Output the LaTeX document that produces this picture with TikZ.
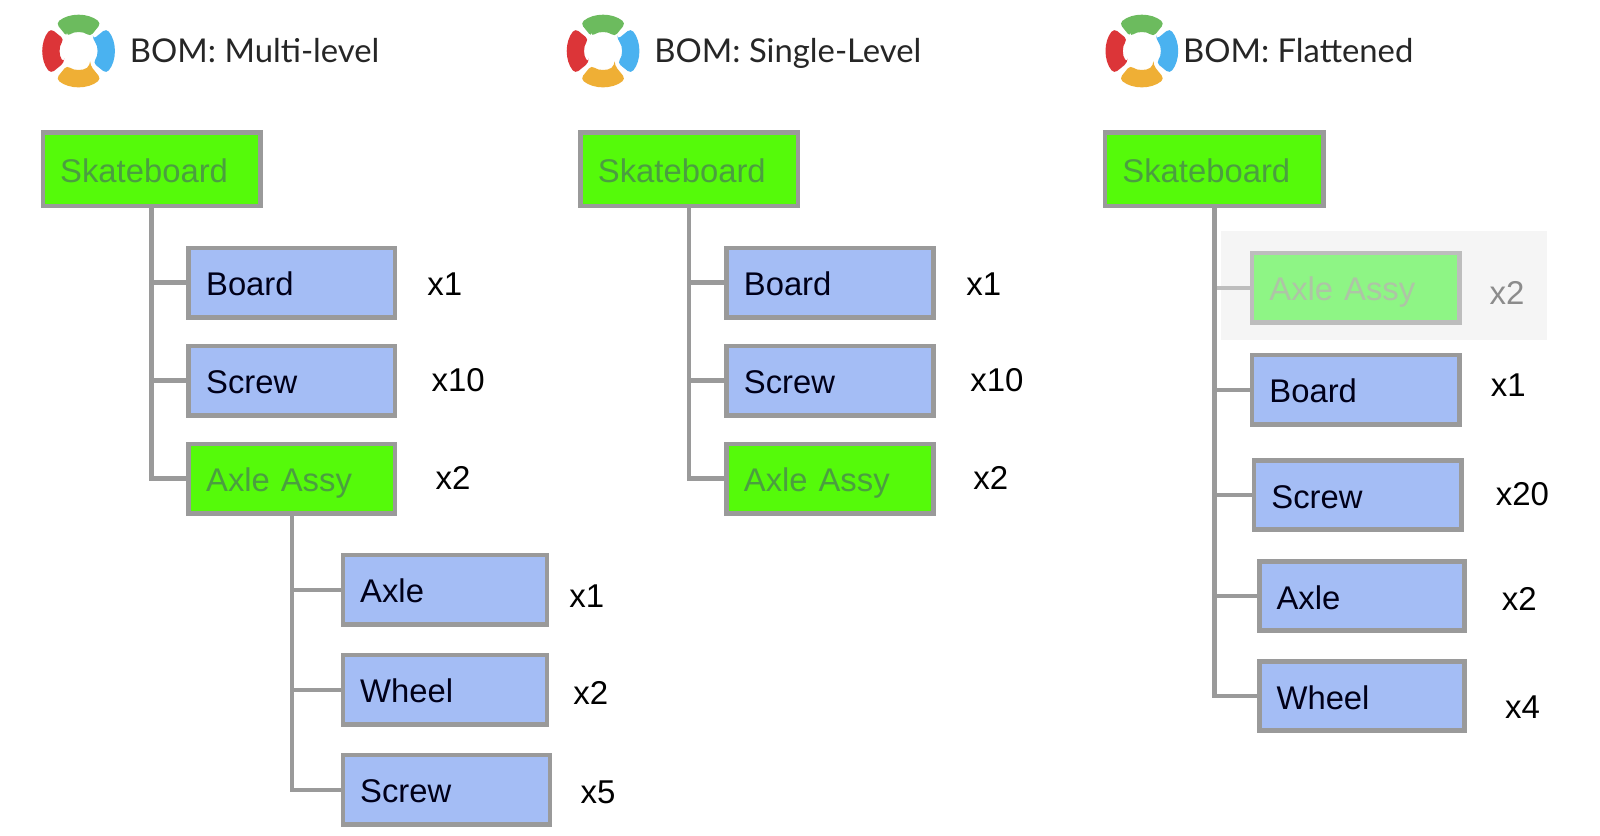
\documentclass[tikz,border=0pt]{standalone}
\usepackage{fontspec}
\setmainfont{Liberation Sans}
\newfontfamily\headfont{Lato}
\definecolor{lineg}{HTML}{9A9A9A}
\definecolor{boxgreen}{HTML}{55FA0A}
\definecolor{boxblue}{HTML}{A4BDF5}
\definecolor{greentext}{HTML}{4B9E40}
\definecolor{fadegreen}{HTML}{8EF585}
\definecolor{fadeline}{HTML}{BDBDBD}
\definecolor{fadetext}{HTML}{AEC4A6}
\definecolor{fadeback}{HTML}{F5F5F5}
\definecolor{logogreen}{HTML}{6CBB5E}
\definecolor{logored}{HTML}{DC3538}
\definecolor{logoblue}{HTML}{4AB2F0}
\definecolor{logoorange}{HTML}{EFAF35}
\def\u{0.5102}
\tikzset{
  x=\u pt,y=-\u pt,
  bomnode/.style={draw=lineg,line width=2.3pt,inner xsep=0pt,inner ysep=0pt,align=left,font=\fontsize{16.4}{18}\selectfont},
  partbox/.style={bomnode,fill=boxblue,text=black!90!blue},
  greenbox/.style={bomnode,fill=boxgreen,text=greentext},
  fadebox/.style={bomnode,fill=fadegreen,draw=fadeline,text=fadetext},
  conn/.style={draw=lineg,line width=2.2pt},
  fadeconn/.style={draw=fadeline,line width=2.2pt},
  qty/.style={font=\fontsize{16.5}{18}\selectfont,text=black,inner sep=0pt},
  fadeqty/.style={qty,text=gray!90},
  heading/.style={font=\headfont\fontsize{16.4}{20}\selectfont,text=black!85,anchor=base west,inner sep=0pt},
}
\newcommand{\bomnodeat}[7]{% name, style, x1, y1, x2, y2, text
  \pgfmathsetmacro{\bw}{(#5-#3-2)*\u}
  \pgfmathsetmacro{\bh}{(#6-#4-2)*\u}
  \pgfmathsetmacro{\tw}{(#5-#3-36)*\u}
  \pgfmathsetmacro{\bx}{(#3+#5)/2}
  \pgfmathsetmacro{\by}{(#4+#6)/2}
  \node[#2,minimum width=\bw pt,minimum height=\bh pt,text width=\tw pt] (#1) at (\bx,\by) {\rule[-.22em]{0pt}{1.24em}#7};
}
\newcommand{\bomlogo}[2]{%
  \begin{scope}[shift={(#1,#2)}]
    \foreach \c/\a in {logogreen/-90,logored/180,logoblue/0,logoorange/90}{
      \fill[\c,rounded corners=2pt] (\a-39:18) -- (\a-39:35) arc[start angle=\a-39,end angle=\a+39,radius=35] -- (\a+39:18) arc[start angle=\a+39,end angle=\a-39,radius=18] -- cycle;
    }
  \end{scope}
}
\begin{document}
\begin{tikzpicture}
\useasboundingbox (0,0) rectangle (1568,818.3);
\fill[white] (0,0) rectangle (1568,818.3);
% headings
\bomlogo{77}{50}
\bomlogo{591}{50}
\bomlogo{1119}{50}
\node[heading] (h1) at (127,61) {BOM: Multi-level};
\node[heading] (h2) at (641,61) {BOM: Single-Level};
\node[heading] (h3) at (1159,61) {BOM: Flattened};
% column 1
\bomnodeat{a0}{greenbox}{41}{129}{256}{203}{Skateboard}
\bomnodeat{a1}{partbox}{184}{242}{388}{312}{Board}
\bomnodeat{a2}{partbox}{184}{338}{388}{408}{Screw}
\bomnodeat{a3}{greenbox}{184}{434}{388}{504}{Axle Assy}
\bomnodeat{a4}{partbox}{335}{543}{537}{613}{Axle}
\bomnodeat{a5}{partbox}{335}{641}{537}{711}{Wheel}
\bomnodeat{a6}{partbox}{335}{739}{540}{809}{Screw}
\draw[conn] (a0.south) |- (a1.west);
\draw[conn] (a0.south) |- (a2.west);
\draw[conn] (a0.south) |- (a3.west);
\draw[conn] (a3.south) |- (a4.west);
\draw[conn] (a3.south) |- (a5.west);
\draw[conn] (a3.south) |- (a6.west);
\node[qty] (qa1) at (436,278) {x1};
\node[qty] (qa2) at (449,373) {x10};
\node[qty] (qa3) at (444,468) {x2};
\node[qty] (qa4) at (575,584) {x1};
\node[qty] (qa5) at (579,679) {x2};
\node[qty] (qa6) at (586,776) {x5};
% column 2
\bomnodeat{b0}{greenbox}{568}{129}{783}{203}{Skateboard}
\bomnodeat{b1}{partbox}{711}{242}{916}{312}{Board}
\bomnodeat{b2}{partbox}{711}{338}{916}{408}{Screw}
\bomnodeat{b3}{greenbox}{711}{434}{916}{504}{Axle Assy}
\draw[conn] (b0.south) |- (b1.west);
\draw[conn] (b0.south) |- (b2.west);
\draw[conn] (b0.south) |- (b3.west);
\node[qty] (qb1) at (964,278) {x1};
\node[qty] (qb2) at (977,373) {x10};
\node[qty] (qb3) at (971,468) {x2};
% column 3
\fill[fadeback] (1197,226) rectangle (1516,333);
\bomnodeat{c0}{greenbox}{1082}{129}{1298}{203}{Skateboard}
\bomnodeat{c1}{fadebox}{1226}{247}{1431}{317}{Axle Assy}
\bomnodeat{c2}{partbox}{1226}{347}{1431}{417}{Board}
\bomnodeat{c3}{partbox}{1228}{450}{1433}{520}{Screw}
\bomnodeat{c4}{partbox}{1233}{549}{1436}{619}{Axle}
\bomnodeat{c5}{partbox}{1233}{647}{1436}{717}{Wheel}
\draw[fadeconn] (c0.south) |- (c1.west);
\draw[conn] (c0.south) |- (c2.west);
\draw[conn] (c0.south) |- (c3.west);
\draw[conn] (c0.south) |- (c4.west);
\draw[conn] (c0.south) |- (c5.west);
\node[fadeqty] (qc1) at (1477,287) {x2};
\node[qty] (qc2) at (1478,377) {x1};
\node[qty] (qc3) at (1492,484) {x20};
\node[qty] (qc4) at (1489,587) {x2};
\node[qty] (qc5) at (1492,693) {x4};
\end{tikzpicture}
\end{document}
